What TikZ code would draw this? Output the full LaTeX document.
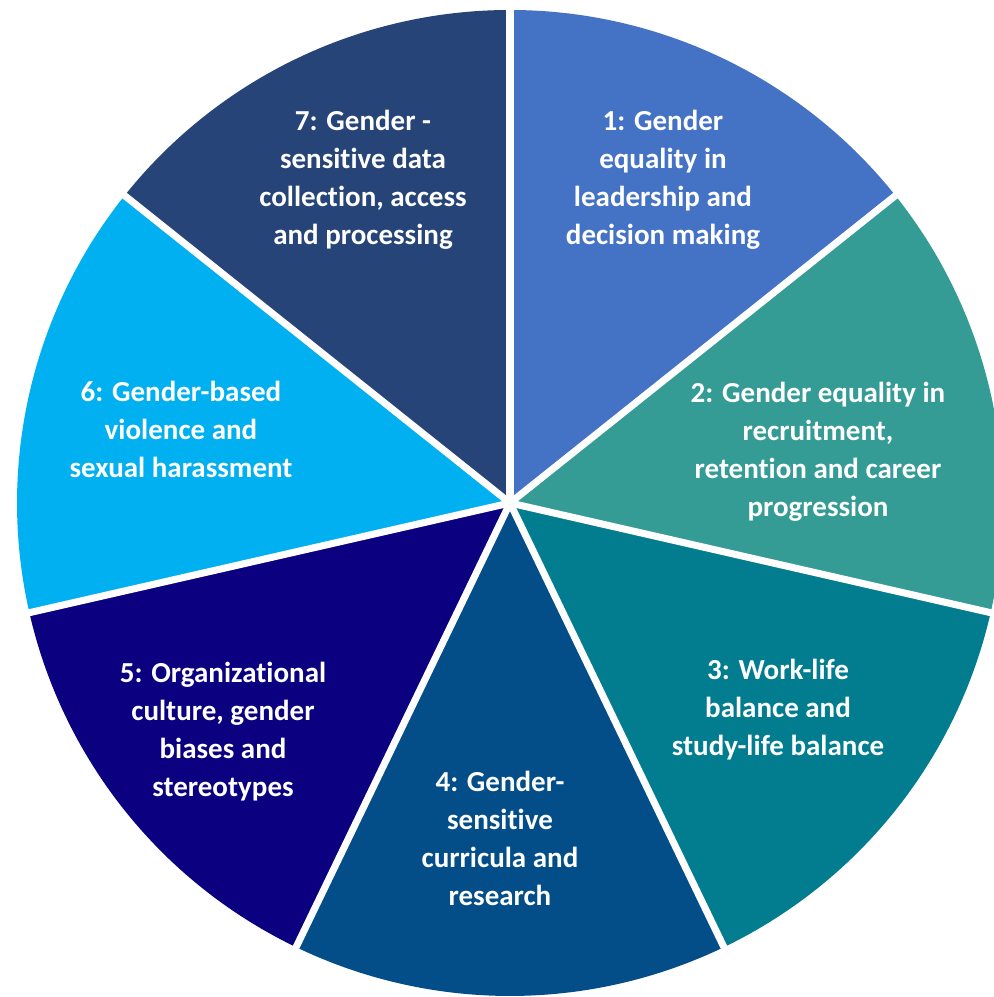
\documentclass[tikz,border=0pt]{standalone}
\usepackage{fontspec}
\setmainfont{Carlito}[Ligatures=NoCommon]
\usepackage{tikz}

% Slice colours
\definecolor{sliceone}{HTML}{4472C4}
\definecolor{slicetwo}{HTML}{349C95}
\definecolor{slicethree}{HTML}{027D8F}
\definecolor{slicefour}{HTML}{034E89}
\definecolor{slicefive}{HTML}{0B007F}
\definecolor{slicesix}{HTML}{00B0F0}
\definecolor{sliceseven}{HTML}{264478}

\begin{document}
\begin{tikzpicture}[x=0.01cm,y=0.01cm,
  slicetext/.style={text=white,align=center,
    font=\bfseries\fontsize{8.25}{10.8}\selectfont}]

  % Page frame
  \useasboundingbox (0,0) rectangle (994,997);
  \clip (0,0) rectangle (994,997);
  \fill[white] (0,0) rectangle (994,997);

  % Centre of the pie
  \coordinate (c) at (510,494);

  % Seven equal slices, clockwise from the top
  \foreach \i/\col in {1/sliceone,2/slicetwo,3/slicethree,4/slicefour,
                       5/slicefive,6/slicesix,7/sliceseven} {
    \fill[\col] (c) -- ++({90-(\i-1)*360/7}:493)
      arc[start angle={90-(\i-1)*360/7}, end angle={90-\i*360/7}, radius=493]
      -- cycle;
  }

  % White gaps between slices
  \foreach \i in {0,...,6}
    \draw[white,line width=2pt] (c) -- ++({90-\i*360/7}:510);

  % Slice labels
  \node[slicetext] (gender1) at (663,817) {1: Gender\\equality in\\leadership and\\decision making};
  \node[slicetext] (gender2) at (818,545) {2: Gender equality in\\recruitment,\\retention and career\\progression};
  \node[slicetext] (gender3) at (778,287) {3: Work-life\\balance and\\study-life balance};
  \node[slicetext] (gender4) at (500,159) {4: Gender-\\sensitive\\curricula and\\research};
  \node[slicetext] (gender5) at (223,265) {5: Organizational\\culture, gender\\biases and\\stereotypes};
  \node[slicetext] (gender6) at (181,568) {6: Gender-based\\violence and\\sexual harassment};
  \node[slicetext] (gender7) at (363,817) {7: Gender -\\sensitive data\\collection, access\\and processing};

\end{tikzpicture}
\end{document}
